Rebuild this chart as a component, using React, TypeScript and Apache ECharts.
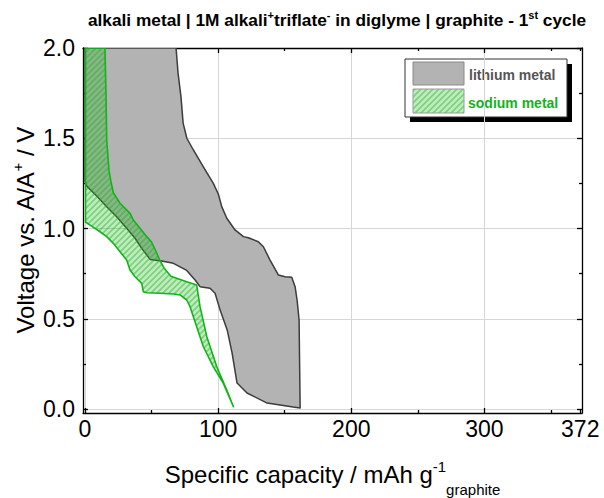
import React, { useEffect, useRef } from "react";
import * as echarts from "echarts";

// ---- axis ticks / labels ----
const X_MAJOR_TICKS = [0, 100, 200, 300];
const X_MINOR_TICKS = [50, 150, 250, 350, 372];
const X_LABELS = [0, 100, 200, 300, 372];
const Y_MAJOR_TICKS = [0, 0.5, 1.0, 1.5, 2.0];
const Y_MINOR_TICKS = [0.25, 0.75, 1.25, 1.75];
const X_RANGE = [-1.5, 373.3];
const Y_RANGE = [-0.022, 2.0];

// ---- lithium metal: [capacity mAh/g, voltage V] ----
const LITHIUM_LOWER_EDGE = [
  [0, 2.0], [0, 1.26], [1.3, 1.235], [8.8, 1.18], [16.3, 1.121], [23.8, 1.065],
  [31.3, 1.001], [37.6, 0.946], [42.6, 0.89], [48.9, 0.829], [57.6, 0.82],
  [66.4, 0.807], [76.4, 0.768], [82.7, 0.715], [86.4, 0.678], [93.9, 0.669],
  [97.7, 0.641], [101.5, 0.548], [106.8, 0.438], [110.5, 0.31], [114.2, 0.144],
  [121.7, 0.089], [136.8, 0.033], [156.3, 0.011], [161.6, 0.006],
];
const LITHIUM_UPPER_EDGE = [
  [68.4, 2.0], [69.9, 1.861], [72.1, 1.729], [73.7, 1.584], [76.5, 1.5],
  [81.4, 1.435], [88.9, 1.342], [96.4, 1.25], [100.2, 1.19], [102.7, 1.121],
  [106.5, 1.057], [112.7, 0.992], [119.0, 0.955], [122.7, 0.949], [130.2, 0.927],
  [134.0, 0.899], [139.0, 0.825], [145.3, 0.742], [150.3, 0.733], [155.3, 0.73],
  [157.8, 0.678], [159.3, 0.604], [160.8, 0.493], [161.6, 0.006],
];

// ---- sodium metal ----
const SODIUM_LOWER_EDGE = [
  [0.4, 2.0], [0.4, 1.036], [3.8, 1.019], [11.3, 0.982], [16.3, 0.955],
  [21.3, 0.918], [26.3, 0.871], [31.3, 0.825], [33.8, 0.77], [37.6, 0.733],
  [42.6, 0.696], [43.8, 0.65], [46.4, 0.644], [56.4, 0.641], [66.4, 0.637],
  [71.4, 0.632], [76.4, 0.604], [78.9, 0.567], [83.9, 0.456], [88.9, 0.345],
  [96.4, 0.234], [103.9, 0.142], [111.5, 0.013],
];
const SODIUM_UPPER_EDGE = [
  [15.0, 2.0], [15.8, 1.73], [16.3, 1.49], [18.0, 1.324], [19.5, 1.26],
  [21.3, 1.198], [26.3, 1.14], [33.8, 1.084], [36.3, 1.047], [41.3, 1.001],
  [46.4, 0.955], [50.0, 0.925], [53.9, 0.863], [56.4, 0.82], [59.5, 0.78],
  [64.5, 0.735], [76.4, 0.705], [83.9, 0.687], [86.4, 0.567], [91.5, 0.401],
  [99.0, 0.234], [106.5, 0.105], [111.5, 0.013],
];

const FONT = "'Liberation Sans', Arial, sans-serif";
const GREEN = "#12b41a";

function makeHatch(): HTMLCanvasElement {
  const c = document.createElement("canvas");
  c.width = 6;
  c.height = 6;
  const ctx = c.getContext("2d")!;
  ctx.fillStyle = "rgba(30,190,30,0.28)";
  ctx.fillRect(0, 0, 6, 6);
  ctx.strokeStyle = "rgba(30,175,30,0.42)";
  ctx.lineWidth = 1.7;
  ctx.beginPath();
  ctx.moveTo(-1, 1); ctx.lineTo(1, -1);
  ctx.moveTo(-1, 7); ctx.lineTo(7, -1);
  ctx.moveTo(5, 7); ctx.lineTo(7, 5);
  ctx.stroke();
  return c;
}

function polygonSeries(name: string, lower: number[][], upper: number[][], style: any) {
  const pts = lower.concat(upper.slice().reverse());
  return {
    type: "custom",
    name,
    xAxisIndex: 0,
    yAxisIndex: 0,
    clip: true,
    silent: true,
    data: [[0, 0]],
    renderItem: (_params: any, api: any) => ({
      type: "polygon",
      shape: { points: pts.map((p) => api.coord(p)) },
      style,
    }),
  };
}

export default function App() {
  const ref = useRef<HTMLDivElement>(null);
  useEffect(() => {
    document.body.style.margin = "0";
    if (!ref.current) return;
    const chart = echarts.init(ref.current, undefined, { renderer: "svg" });
    const hatch = makeHatch();
    const hatchFill = { image: hatch, repeat: "repeat", imageWidth: 6, imageHeight: 6 };

    const axisLine = { show: true, onZero: false, lineStyle: { color: "#000", width: 1.3 } };
    const noLine = { show: false, onZero: false };
    const tickStyle = { color: "#000", width: 1.3 };
    const labelStyle = { fontSize: 23, fontFamily: FONT, color: "#000" };
    const grid = { color: "#d6d6d6", width: 1 };

    const xBase = { type: "value", min: X_RANGE[0], max: X_RANGE[1], gridIndex: 0 };
    const yBase = { type: "value", min: Y_RANGE[0], max: Y_RANGE[1], gridIndex: 0 };

    const option: any = {
      animation: false,
      grid: { left: 83, top: 48, right: 22, bottom: 85, containLabel: false, outerBoundsMode: "none" },
      xAxis: [
        {
          ...xBase,
          position: "bottom",
          axisLine,
          axisTick: { show: true, inside: true, length: 5, lineStyle: tickStyle, customValues: X_MAJOR_TICKS },
          axisLabel: {
            show: true, margin: 4, ...labelStyle, customValues: X_LABELS,
            formatter: (v: number) => String(Math.round(v)),
          },
          splitLine: { show: true, lineStyle: grid },
          name: "Specific capacity / mAh g{sup|-1}{sub|graphite}",
          nameLocation: "middle",
          nameMoveOverlap: false,
          nameGap: 38,
          nameTextStyle: {
            fontSize: 24, fontFamily: FONT, color: "#000", lineHeight: 46,
            rich: {
              sup: { fontSize: 15, fontFamily: FONT, color: "#000", lineHeight: 16, verticalAlign: "top", padding: [8, 0, 0, 0] },
              sub: { fontSize: 15, fontFamily: FONT, color: "#000", lineHeight: 16, verticalAlign: "bottom" },
            },
          },
        },
        {
          ...xBase, position: "bottom", axisLine: noLine,
          axisTick: { show: true, inside: true, length: 3, lineStyle: tickStyle, customValues: X_MINOR_TICKS },
          axisLabel: { show: false }, splitLine: { show: false },
        },
        {
          ...xBase, position: "top", axisLine,
          axisTick: { show: true, inside: true, length: 5, lineStyle: tickStyle, customValues: X_MAJOR_TICKS },
          axisLabel: { show: false }, splitLine: { show: false },
        },
        {
          ...xBase, position: "top", axisLine: noLine,
          axisTick: { show: true, inside: true, length: 3, lineStyle: tickStyle, customValues: X_MINOR_TICKS },
          axisLabel: { show: false }, splitLine: { show: false },
        },
      ],
      yAxis: [
        {
          ...yBase,
          position: "left",
          axisLine,
          axisTick: { show: true, inside: true, length: 5, lineStyle: tickStyle, customValues: Y_MAJOR_TICKS },
          axisLabel: {
            show: true, margin: 8, ...labelStyle, customValues: Y_MAJOR_TICKS,
            formatter: (v: number) => v.toFixed(1),
          },
          splitLine: { show: true, lineStyle: grid },
          name: "Voltage vs. A/A{sup|+} / V",
          nameLocation: "middle",
          nameMoveOverlap: false,
          nameGap: 43,
          nameTextStyle: {
            fontSize: 24, fontFamily: FONT, color: "#000", lineHeight: 30,
            rich: {
              sup: { fontSize: 15, fontFamily: FONT, color: "#000", lineHeight: 16, verticalAlign: "top" },
            },
          },
        },
        {
          ...yBase, position: "left", axisLine: noLine,
          axisTick: { show: true, inside: true, length: 3, lineStyle: tickStyle, customValues: Y_MINOR_TICKS },
          axisLabel: { show: false }, splitLine: { show: false },
        },
        {
          ...yBase, position: "right", axisLine,
          axisTick: { show: true, inside: true, length: 5, lineStyle: tickStyle, customValues: Y_MAJOR_TICKS },
          axisLabel: { show: false }, splitLine: { show: false },
        },
        {
          ...yBase, position: "right", axisLine: noLine,
          axisTick: { show: true, inside: true, length: 3, lineStyle: tickStyle, customValues: Y_MINOR_TICKS },
          axisLabel: { show: false }, splitLine: { show: false },
        },
      ],
      series: [
        polygonSeries("lithium metal", LITHIUM_LOWER_EDGE, LITHIUM_UPPER_EDGE, {
          fill: "#b3b3b3", stroke: "#3c3c3c", lineWidth: 1.5, lineJoin: "round",
        }),
        polygonSeries("sodium metal", SODIUM_LOWER_EDGE, SODIUM_UPPER_EDGE, {
          fill: hatchFill, stroke: GREEN, lineWidth: 1.6, lineJoin: "round",
        }),
      ],
      graphic: [
        {
          type: "text",
          x: 337,
          y: 20,
          style: {
            text: "alkali metal | 1M alkali{sup|+}triflate{sup|-} in diglyme | graphite - 1{sup|st} cycle",
            fontSize: 17.3, fontWeight: "bold", fontFamily: FONT, fill: "#000",
            lineHeight: 22, align: "center", verticalAlign: "middle",
            rich: {
              sup: { fontSize: 11, fontWeight: "bold", fontFamily: FONT, fill: "#000", lineHeight: 12, verticalAlign: "top" },
            },
          },
        },
        { type: "rect", shape: { x: 410, y: 64, width: 162, height: 58 }, style: { fill: "#000" } },
        { type: "rect", shape: { x: 405, y: 59, width: 162, height: 58 }, style: { fill: "#fff", stroke: "#333", lineWidth: 1 } },
        { type: "rect", shape: { x: 413, y: 62, width: 51, height: 23 }, style: { fill: "#b3b3b3", stroke: "#8a8a8a", lineWidth: 1 } },
        { type: "rect", shape: { x: 413, y: 89, width: 51, height: 24 }, style: { fill: hatchFill, stroke: "#9a9a9a", lineWidth: 1 } },
        {
          type: "text", x: 469, y: 75,
          style: { text: "lithium metal", fontSize: 14, fontWeight: "bold", fontFamily: FONT, fill: "#555", verticalAlign: "middle" },
        },
        {
          type: "text", x: 468, y: 103,
          style: { text: "sodium metal", fontSize: 14, fontWeight: "bold", fontFamily: FONT, fill: GREEN, verticalAlign: "middle" },
        },
      ],
    };
    chart.setOption(option);
    return () => chart.dispose();
  }, []);
  return <div ref={ref} style={{ width: 604, height: 498 }} />;
}
